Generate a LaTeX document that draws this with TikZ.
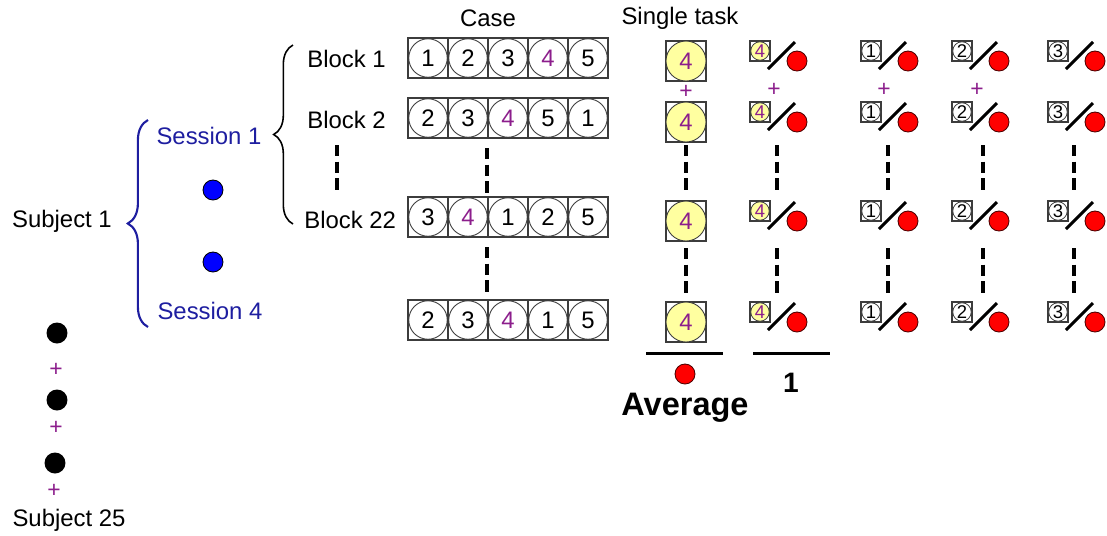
\documentclass[tikz,border=0pt]{standalone}
\usepackage{fontspec}
\setmainfont{Liberation Sans}
\usetikzlibrary{decorations.pathreplacing}
\definecolor{purp}{RGB}{140,30,140}
\definecolor{sessblue}{RGB}{30,30,160}
\definecolor{dotblue}{RGB}{0,0,255}
\definecolor{lyellow}{RGB}{255,255,160}
\definecolor{boxgray}{RGB}{60,60,60}
\definecolor{dotred}{RGB}{255,0,0}
\newcommand\cnum[1]{\ifnum#1=4 \textcolor{purp}{#1}\else #1\fi}
\begin{document}
\begin{tikzpicture}[x=0.02cm,y=-0.02cm,
  txt/.style={font=\fontsize{13.6}{16}\selectfont, inner sep=0},
  plus/.style={text=purp, font=\fontsize{13}{14}\selectfont, inner sep=0},
  sq/.style={draw=boxgray, line width=0.6pt, minimum size=0.8cm, inner sep=0},
  cir/.style={circle, draw=boxgray, line width=0.5pt, minimum size=0.77cm, inner sep=0, font=\fontsize{13.6}{16}\selectfont},
  ycir/.style={cir, fill=lyellow, minimum size=0.8cm, text=purp},
  smsq/.style={draw=boxgray, line width=0.6pt, minimum size=0.4cm, inner sep=0},
  smcir/.style={circle, draw=boxgray, line width=0.45pt, minimum size=0.37cm, inner sep=0, font=\fontsize{10.5}{11}\selectfont},
  reddot/.style={circle, fill=dotred, draw=black!70!red, line width=0.5pt, minimum size=0.4cm, inner sep=0},
  blkdot/.style={circle, fill=black, minimum size=0.42cm, inner sep=0},
  bludot/.style={circle, fill=dotblue, draw=black, line width=0.5pt, minimum size=0.4cm, inner sep=0},
  vdash/.style={line width=2.8pt, dash pattern=on 6.5pt off 3pt},
  slash/.style={line width=1.7pt},
  bar/.style={line width=1.7pt}
]
\useasboundingbox (0,0) rectangle (1107,535);

% headers
\node[txt] (case) at (488,18) {Case};
\node[txt] (single) at (680,18) {Single task};

% case rows
\foreach \y/\a/\b/\c/\d/\e [count=\r] in {58/1/2/3/4/5, 118/2/3/4/5/1, 217/3/4/1/2/5, 320/2/3/4/1/5} {
  \foreach \n [count=\i] in {\a,\b,\c,\d,\e} {
    \node[sq] (c\r-\i) at ({388+40*\i},\y) {};
    \node[cir] at (c\r-\i) {\cnum{\n}};
  }
}

% block labels
\node[txt, anchor=west] (bl1) at (307,59) {Block 1};
\node[txt, anchor=west] (bl2) at (307,120) {Block 2};
\node[txt, anchor=west] (bl22) at (304,220) {Block 22};
\draw[decorate, decoration={brace, amplitude=11pt}, line width=0.9pt] (293,224) -- (293,45);
\draw[vdash] (337,145) -- (337,190);

% sessions
\node[txt, text=sessblue] (sess1) at (209,136) {Session 1};
\node[txt, text=sessblue] (sess4) at (210,311) {Session 4};
\node[bludot] (bd1) at (213,190) {};
\node[bludot] (bd2) at (213,262) {};
\draw[decorate, decoration={brace, amplitude=11.5pt}, sessblue, line width=1.2pt] (148,327) -- (148,120);
\node[txt] (subj1) at (62,221) {Subject 1};

% subjects
\node[blkdot] (k1) at (57,333) {};
\node[blkdot] (k2) at (57,400) {};
\node[blkdot] (k3) at (55,463) {};
\node[plus] (p1) at (56,370) {+};
\node[plus] (p2) at (56,428) {+};
\node[plus] (p3) at (54,491) {+};
\node[txt] (subj25) at (69,520) {Subject 25};

% single task column
\foreach \r [count=\k] in {61,122,221,322} {
  \node[sq] (s\k) at (686,\r) {};
  \node[ycir] at (s\k) {4};
}
\node[plus] (ps) at (686,92) {+};

% right columns
\foreach \bx/\lab/\px [count=\j] in {760/4/777, 871/1/888, 962/2/983, 1058/3/1074} {
  \foreach \r [count=\k] in {61,122,221,322} {
    \node[smsq] (b\j-\k) at (\bx,\r-10) {};
    \ifnum\lab=4
      \node[smcir, fill=lyellow, text=purp] at (b\j-\k) {4};
    \else
      \node[smcir, fill=white] at (b\j-\k) {\lab};
    \fi
    \draw[slash] (\bx+8,\r+8) -- (\bx+35,\r-19);
    \node[reddot] (d\j-\k) at (\bx+37,\r) {};
  }
  \draw[vdash] (\px,145) -- (\px,190);
  \draw[vdash] (\px,248) -- (\px,293);
}
\node[plus] (pc1) at (774,90) {+};
\node[plus] (pc2) at (884,90) {+};
\node[plus] (pc3) at (977,90) {+};

% dashes in case and single columns
\draw[vdash] (487,148) -- (487,193);
\draw[vdash] (487,247) -- (487,292);
\draw[vdash] (686,145) -- (686,190);
\draw[vdash] (686,248) -- (686,293);

% average
\draw[bar] (646,353) -- (723,353);
\draw[bar] (753,353) -- (830,353);
\node[reddot] (avgdot) at (685,374) {};
\node[font=\bfseries\fontsize{18.5}{20}\selectfont, inner sep=0] (avg) at (685,408) {Average};
\node[font=\bfseries\fontsize{16}{18}\selectfont, inner sep=0] (one) at (791,383) {1};
\end{tikzpicture}
\end{document}
